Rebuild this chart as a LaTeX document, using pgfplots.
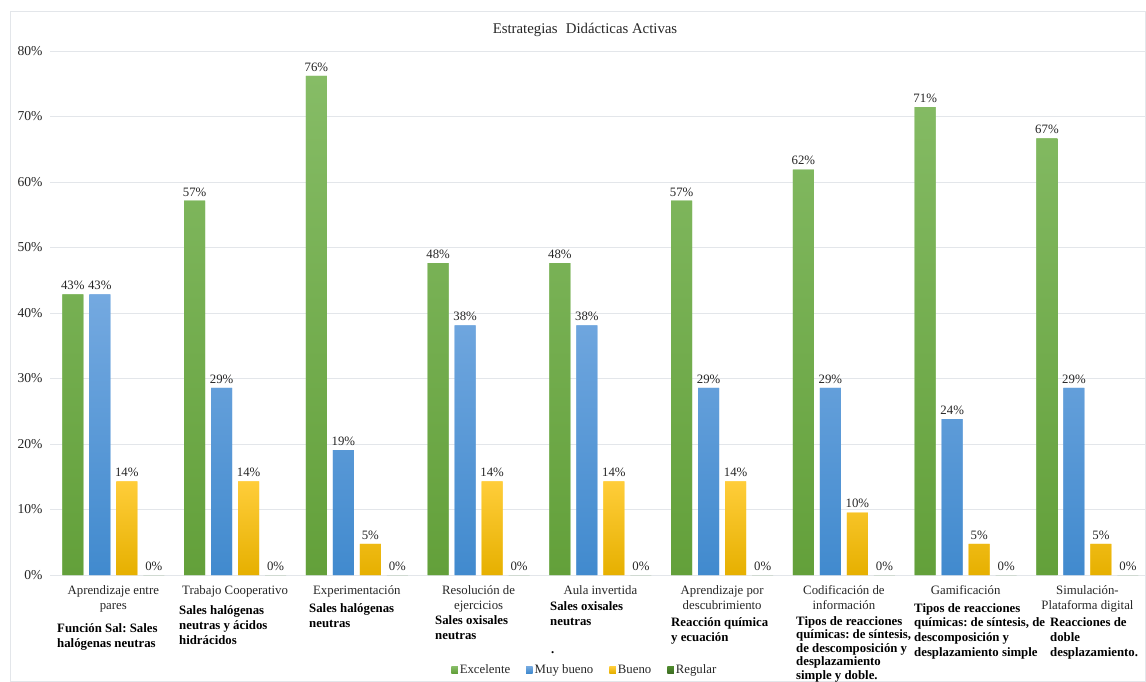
\documentclass[border=0pt]{standalone}
\usepackage{fontspec}
\setmainfont{Liberation Serif}
\usepackage{pgfplots}
\usepackage{pgfplotstable}
\pgfplotsset{compat=1.18}
\frenchspacing

\definecolor{gTop}{HTML}{86BC66}
\definecolor{gBot}{HTML}{63A03A}
\definecolor{bTop}{HTML}{74A9E0}
\definecolor{bBot}{HTML}{418ACE}
\definecolor{yTop}{HTML}{FFCD3A}
\definecolor{yBot}{HTML}{E6B000}
\definecolor{dTop}{HTML}{4F8A2E}
\definecolor{dBot}{HTML}{3E6F23}
\definecolor{gridc}{HTML}{E3E6EA}
\definecolor{txt}{HTML}{262626}

\newcommand\fs{\fontsize{12.8}{15}\selectfont}
\newcommand\fy{\fontsize{13.6}{15}\selectfont}
\newcommand\fb{\fontsize{12.8}{15}\selectfont\bfseries}
\newcommand\bl[2][1]{\renewcommand\arraystretch{#1}\begin{tabular}[t]{@{}l@{}}#2\end{tabular}}

\pgfplotstableread{
x exc muy bue reg
0 42.86 42.86 14.29 0
1 57.14 28.57 14.29 0
2 76.19 19.05 4.76 0
3 47.62 38.10 14.29 0
4 47.62 38.10 14.29 0
5 57.14 28.57 14.29 0
6 61.90 28.57 9.52 0
7 71.43 23.81 4.76 0
8 66.67 28.57 4.76 0
}\data

\begin{document}
\begin{tikzpicture}[x=1pt,y=1pt]
\draw[gridc] (10,-11) rectangle (1145.5,-681.5);
\node[font=\fontsize{14.8}{17}\selectfont, text=txt] at (585,-30) {Estrategias\hspace{0.55em}Didácticas Activas};
\begin{axis}[
  at={(50pt,-575pt)}, anchor=south west,
  scale only axis, width=1096pt, height=524pt,
  ymin=0, ymax=80, xmin=-0.52, xmax=8.48,
  ybar=6pt, bar width=21pt,
  axis line style={draw=none},
  tick style={draw=none},
  ytick={0,10,...,80},
  /pgf/number format/assume math mode=true,
  yticklabel={\pgfmathprintnumber{\tick}\%},
  yticklabel style={font=\fy, text=txt, xshift=-4pt},
  ymajorgrids, grid style={draw=gridc, line width=0.8pt},
  xtick={0,...,8},
  xticklabels={Aprendizaje entre\\pares, Trabajo Cooperativo, Experimentación, Resolución de\\ejercicios, Aula invertida, Aprendizaje por\\descubrimiento, Codificación de\\información, Gamificación, Simulación-\\Plataforma digital},
  xticklabel style={align=center, font=\fs, text=txt, yshift=-3pt},
  nodes near coords={\pgfmathprintnumber[fixed,precision=0]{\pgfplotspointmeta}\%},
  every node near coord/.append style={font=\fs, text=txt, yshift=1pt},
  legend style={at={(0.488,-0.1813)}, anchor=center, draw=none, fill=none,
    legend columns=4, font=\fs, text=txt,
    /tikz/every even column/.append style={column sep=14pt}},
  legend image code/.code={\fill[#1] (0pt,-3pt) rectangle (6.5pt,3.5pt);},
]
\addplot[draw=none, top color=gTop, bottom color=gBot, fill=gTop] table[x=x,y=exc] {\data};
\addplot[draw=none, top color=bTop, bottom color=bBot, fill=bTop] table[x=x,y=muy] {\data};
\addplot[draw=none, top color=yTop, bottom color=yBot, fill=yTop] table[x=x,y=bue] {\data};
\addplot[draw=none, top color=dTop, bottom color=dBot, fill=dTop] table[x=x,y=reg] {\data};
\legend{Excelente, Muy bueno, Bueno, Regular}
\end{axis}
\begin{scope}[every node/.style={anchor=base west, inner sep=0pt, font=\fb, text=black}]
\node at (57,-632) {\bl{Función Sal: Sales\\halógenas neutras}};
\node at (179,-614) {\bl{Sales halógenas\\neutras y ácidos\\hidrácidos}};
\node at (309,-612) {\bl{Sales halógenas\\neutras}};
\node at (435,-624) {\bl{Sales oxisales\\neutras}};
\node at (550,-610) {\bl{Sales oxisales\\neutras}};
\node at (551,-653) {.};
\node at (671,-626) {\bl{Reacción química\\y ecuación}};
\node at (796,-625) {\bl[0.9]{Tipos de reacciones\\químicas: de síntesis,\\de descomposición y\\desplazamiento\\simple y doble.}};
\node at (914,-612) {\bl[0.98]{Tipos de reacciones\\químicas: de síntesis, de\\descomposición y\\desplazamiento simple}};
\node at (1050,-626) {\bl{Reacciones de\\doble\\desplazamiento.}};
\end{scope}
\pgfresetboundingbox
\useasboundingbox (0,0) rectangle (1146,-682);
\end{tikzpicture}
\end{document}
